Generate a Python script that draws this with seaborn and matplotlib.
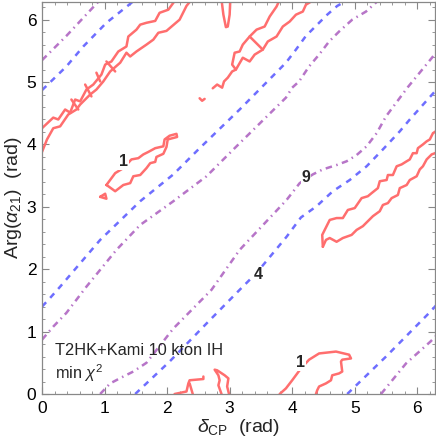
import pandas as pd
import matplotlib
matplotlib.use("Agg")
import matplotlib.pyplot as plt
import seaborn as sns
from matplotlib.ticker import MultipleLocator
import numpy as np

# contour levels of min chi^2 and their colours / dash patterns
levels = ["1", "4", "9"]
level_colors = {"1": "#ff6e6e", "4": "#6e6eff", "9": "#b775c8"}
level_dashes = {"1": "", "4": (2.4, 2.4), "9": (2.6, 1.8, 0.6, 1.8)}

# ---- chi^2 = 1 (red, solid) ----
red_a_upper = [(0.00, 4.26), (0.18, 4.43), (0.26, 4.40), (0.37, 4.56), (0.45, 4.51), (0.53, 4.72),
               (0.61, 4.69), (0.71, 4.88), (0.82, 4.96), (0.95, 5.12), (1.01, 5.28), (1.11, 5.33),
               (1.22, 5.49), (1.35, 5.57), (1.38, 5.73), (1.51, 5.84), (1.57, 5.92), (1.67, 5.95),
               (1.81, 5.98), (1.88, 6.11), (2.02, 6.16), (2.10, 6.27), (2.12, 6.32)]
red_a_lower = [(0.00, 3.88), (0.08, 4.08), (0.18, 4.26), (0.29, 4.29), (0.42, 4.48), (0.55, 4.56),
               (0.61, 4.64), (0.77, 4.80), (0.87, 4.88), (0.98, 5.01), (1.09, 5.17), (1.25, 5.31),
               (1.35, 5.47), (1.41, 5.41), (1.51, 5.49), (1.67, 5.60), (1.78, 5.68), (1.86, 5.79),
               (1.99, 5.82), (2.20, 6.00), (2.31, 6.22), (2.39, 6.32)]
red_a_cross = [[(0.47, 4.72), (0.58, 4.56)], [(0.69, 4.96), (0.79, 4.77)],
               [(0.87, 5.15), (0.93, 5.01)], [(1.03, 5.33), (1.17, 5.17)]]
red_b_upper = [(3.10, 5.20), (3.04, 5.28), (3.08, 5.47), (3.16, 5.49), (3.21, 5.60), (3.32, 5.73),
               (3.43, 5.84), (3.56, 5.89), (3.64, 6.05), (3.75, 6.21), (3.80, 6.32)]
red_b_lower = [(2.73, 4.90), (2.80, 4.96), (2.88, 4.91), (2.91, 5.01), (2.97, 5.07), (3.04, 5.17),
               (3.10, 5.20), (3.21, 5.39), (3.32, 5.33), (3.40, 5.44), (3.53, 5.52), (3.61, 5.65),
               (3.75, 5.73), (3.85, 5.89), (3.96, 5.97), (4.06, 6.08), (4.17, 6.13), (4.22, 6.24),
               (4.35, 6.32)]
red_b_cross = [(3.32, 5.73), (3.53, 5.52)]
red_c_spike = [(2.87, 6.32), (2.90, 6.08), (2.94, 5.88), (2.97, 5.89), (3.00, 6.08), (3.01, 6.32)]
red_dot = [(2.52, 4.74), (2.56, 4.70), (2.60, 4.73)]
red_d_loop = [(1.03, 3.35), (1.17, 3.54), (1.30, 3.62), (1.43, 3.76), (1.54, 3.78), (1.62, 3.84),
              (1.70, 3.88), (1.81, 3.94), (1.94, 3.97), (1.96, 4.08), (2.04, 4.14), (2.15, 4.17),
              (2.16, 4.12), (2.01, 4.08), (1.99, 3.96), (1.94, 3.85), (1.83, 3.80), (1.81, 3.72),
              (1.73, 3.70), (1.67, 3.62), (1.57, 3.51), (1.46, 3.49), (1.41, 3.38), (1.30, 3.35),
              (1.17, 3.25), (1.06, 3.33), (1.03, 3.35)]
red_d_tip = [(0.93, 3.16), (1.01, 3.21), (1.03, 3.13), (0.93, 3.16)]
red_e_lower = [(4.49, 2.36), (4.54, 2.47), (4.60, 2.50), (4.71, 2.44), (4.81, 2.50), (4.95, 2.55),
               (5.03, 2.63), (5.13, 2.69), (5.21, 2.77), (5.29, 2.85), (5.40, 2.93), (5.45, 3.03),
               (5.53, 3.06), (5.59, 3.14), (5.69, 3.19), (5.72, 3.30), (5.83, 3.35), (5.88, 3.43),
               (5.99, 3.49), (6.04, 3.60), (6.09, 3.65), (6.15, 3.76), (6.23, 3.84), (6.31, 3.87)]
red_e_upper = [(4.49, 2.36), (4.48, 2.55), (4.60, 2.79), (4.71, 2.82), (4.81, 2.82), (4.89, 2.95),
               (5.00, 2.98), (5.11, 3.14), (5.21, 3.17), (5.27, 3.22), (5.37, 3.30), (5.40, 3.41),
               (5.51, 3.43), (5.53, 3.51), (5.61, 3.51), (5.67, 3.65), (5.75, 3.68), (5.83, 3.73),
               (5.88, 3.76), (5.93, 3.86), (5.99, 3.86), (6.01, 3.94), (6.09, 4.00), (6.15, 4.05),
               (6.20, 4.08), (6.25, 4.18), (6.31, 4.22)]
red_f_arc = [(3.80, 0.00), (3.90, 0.09), (4.00, 0.22), (4.14, 0.41), (4.27, 0.55), (4.43, 0.65),
             (4.70, 0.68), (4.91, 0.63), (4.94, 0.57), (4.80, 0.55), (4.78, 0.52), (4.80, 0.36),
             (4.75, 0.33), (4.64, 0.30), (4.62, 0.22), (4.54, 0.17), (4.43, 0.12), (4.40, 0.06),
             (4.38, 0.00)]
red_g_step = [(2.12, 0.00), (2.31, 0.04), (2.34, 0.17), (2.36, 0.22), (2.58, 0.24), (2.58, 0.28)]
red_g_leg = [(2.36, 0.17), (2.41, 0.00)]
red_h_loop = [(2.87, 0.00), (2.82, 0.14), (2.84, 0.22), (2.82, 0.30), (2.76, 0.39), (2.80, 0.38),
              (2.92, 0.30), (2.98, 0.25), (2.96, 0.12), (2.99, 0.00)]

# ---- chi^2 = 4 (blue, dashed) ----
blue_top_left = [(0.00, 4.87), (0.39, 5.25), (0.66, 5.57), (1.03, 5.95), (1.43, 6.27), (1.48, 6.32)]
blue_middle = [(0.00, 1.40), (0.13, 1.54), (0.29, 1.72), (0.93, 2.47), (1.57, 3.09), (2.10, 3.52),
               (2.50, 3.92), (3.16, 4.56), (3.90, 5.31), (4.06, 5.52), (4.22, 5.74), (4.38, 5.90),
               (4.56, 6.08), (4.72, 6.22), (4.86, 6.30)]
blue_lower = [(1.49, 0.00), (2.04, 0.52), (2.63, 1.13), (3.16, 1.67), (3.43, 1.94), (3.91, 2.52),
              (4.14, 2.83), (4.39, 3.01), (4.65, 3.25), (4.92, 3.43), (5.19, 3.65), (5.45, 3.92),
              (5.72, 4.21), (5.88, 4.40), (6.21, 4.77), (6.30, 4.87)]
blue_bottom_right = [(4.88, 0.00), (5.50, 0.60), (6.21, 1.32), (6.30, 1.42)]

# ---- chi^2 = 9 (purple, dash-dot) ----
purple_top_left = [(0.00, 5.35), (0.39, 5.74), (0.93, 6.32)]
purple_middle = [(0.00, 0.87), (0.18, 1.08), (0.39, 1.30), (0.55, 1.51), (0.71, 1.72), (1.19, 2.31),
                 (1.57, 2.71), (2.10, 3.09), (2.63, 3.49), (3.11, 3.97), (3.90, 4.75), (4.00, 4.91),
                 (4.11, 5.01), (4.27, 5.25), (4.43, 5.44), (4.59, 5.65), (4.75, 5.81), (4.96, 6.00),
                 (5.18, 6.13), (5.39, 6.32)]
purple_lower = [(0.93, 0.00), (1.09, 0.17), (1.30, 0.28), (1.46, 0.36), (1.67, 0.50), (2.10, 1.05),
                (2.71, 1.67), (3.16, 2.31), (3.91, 3.11), (4.12, 3.38), (4.33, 3.52), (4.49, 3.60),
                (4.71, 3.67), (4.87, 3.73), (5.03, 3.83), (5.19, 3.97), (5.35, 4.18), (5.50, 4.45),
                (5.85, 4.92), (6.30, 5.47)]
purple_bottom_right = [(5.42, 0.00), (5.82, 0.49), (6.21, 0.84), (6.30, 0.93)]

# contour labels: (text, x, y)
contour_labels = [("1", 1.30, 3.72), ("9", 4.22, 3.47), ("4", 3.46, 1.91), ("1", 4.14, 0.50)]

segments = [("1", red_a_upper), ("1", red_a_lower), ("1", red_b_upper), ("1", red_b_lower),
            ("1", red_b_cross), ("1", red_c_spike), ("1", red_dot), ("1", red_d_loop),
            ("1", red_d_tip), ("1", red_e_lower), ("1", red_e_upper), ("1", red_f_arc),
            ("1", red_g_step), ("1", red_g_leg), ("1", red_h_loop)]
segments += [("1", c) for c in red_a_cross]
segments += [("4", blue_top_left), ("4", blue_middle), ("4", blue_lower), ("4", blue_bottom_right)]
segments += [("9", purple_top_left), ("9", purple_middle), ("9", purple_lower),
             ("9", purple_bottom_right)]

rows = []
for i, (lev, pts) in enumerate(segments):
    for k, (x, y) in enumerate(pts):
        rows.append({"seg": i, "level": lev, "order": k, "x": x, "y": y})
df = pd.DataFrame(rows)

sns.set_theme(style="ticks")
plt.rcParams['font.family'] = ['Liberation Sans', 'DejaVu Sans']
plt.rcParams['mathtext.fontset'] = 'custom'
plt.rcParams['mathtext.rm'] = 'Liberation Sans'
plt.rcParams['mathtext.it'] = 'Liberation Sans:italic'
plt.rcParams['mathtext.bf'] = 'Liberation Sans:bold'

fig = plt.figure(figsize=(4.36, 4.47), dpi=100)
ax = fig.add_axes([42 / 436, 1 - 394 / 447, 393 / 436, 392 / 447])

sns.lineplot(data=df, x="x", y="y", hue="level", style="level", units="seg",
             estimator=None, sort=False, palette=level_colors, dashes=level_dashes,
             hue_order=levels, style_order=levels, linewidth=1.8, legend=False, ax=ax)

for txt, x, y in contour_labels:
    ax.text(x, y, txt, fontsize=11.5, fontweight="bold", ha="center", va="center",
            bbox=dict(facecolor="white", edgecolor="none", pad=0.6))

ax.text(0.2, 0.81, "T2HK+Kami 10 kton IH\nmin $\\chi^2$", fontsize=11.8, ha="left", va="top",
        linespacing=1.25)

ax.set_xlim(0, 2 * np.pi)
ax.set_ylim(0, 2 * np.pi)
ax.xaxis.set_major_locator(MultipleLocator(1))
ax.yaxis.set_major_locator(MultipleLocator(1))
ax.xaxis.set_minor_locator(MultipleLocator(0.2))
ax.yaxis.set_minor_locator(MultipleLocator(0.2))
ax.tick_params(which="both", direction="in", top=True, right=True, color="#888888",
               labelsize=12.5, labelcolor="black")
ax.tick_params(which="major", length=5, width=0.8)
ax.tick_params(which="minor", length=2.5, width=0.6)
ax.tick_params(axis="x", pad=5)
ax.tick_params(axis="y", pad=4)
for sp in ax.spines.values():
    sp.set_color("#888888")
    sp.set_linewidth(0.9)

ax.set_xlabel("$\\delta_{\\rm CP}$  (rad)", fontsize=14, labelpad=1)
ax.set_ylabel("Arg($\\alpha_{21}$)  (rad)", fontsize=14, labelpad=2)

fig.savefig("out.png", dpi=100)
